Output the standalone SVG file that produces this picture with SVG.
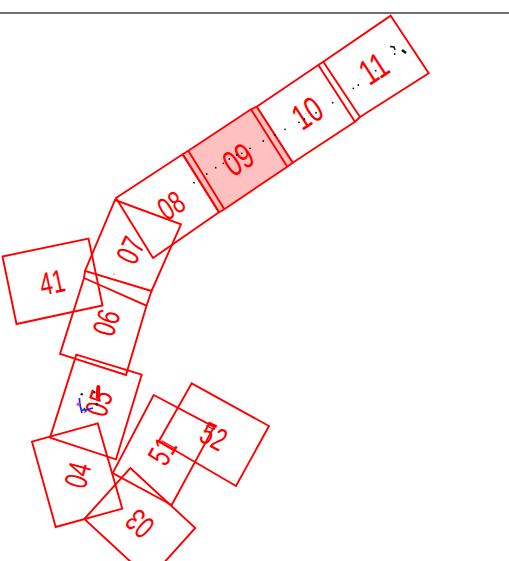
<svg xmlns="http://www.w3.org/2000/svg" width="509" height="561" viewBox="0 0 509 561">
<style>
.b{fill:none;stroke:#f00;stroke-width:1.9;stroke-linejoin:miter}
.s{fill:none;stroke:#f00;stroke-width:1.1}
.t{fill:#f00;font-family:"Liberation Sans",Arial,sans-serif;font-size:32px;text-anchor:middle}
.u{font-size:36px}
.d{fill:#111}
</style>
<rect width="509" height="561" fill="#fff"/>
<path d="M0 13H509" stroke="#707070" stroke-width="2" fill="none"/>
<g id="n11"><polygon class="b" points="390.7,15.7 428.7,73.3 360,117 323.3,61.7"/><text class="t u" y="13" transform="translate(373.5,68) rotate(-33) scale(.72,1)">11</text></g>
<g id="n10"><polygon class="b" points="318.3,65 355,121.7 292.7,162.7 256.7,106.7"/><path class="b" d="M318.3 65L323.3 61.7M355 121.7L360 117"/><text class="t u" y="13" transform="translate(307,112.5) rotate(-33) scale(.72,1)">10</text></g>
<g id="n09"><polygon class="b" points="256.7,106.7 292.7,162.7 287.3,166.7 224.3,209.3 219,212.3 182.7,154.3 188.3,150.7 251,109.3" style="fill:#ffc0c0"/><path class="b" d="M251 109.3L287.3 166.7M188.3 150.7L224.3 209.3"/><text class="t u" y="13" transform="translate(238,159) rotate(-33) scale(.72,1)">09</text></g>
<g id="n08"><polygon class="b" points="182.7,154.3 219,212.3 153,258 116,198"/><text class="t" y="11.5" transform="translate(171,205) rotate(-33) scale(.7,1)">08</text></g>
<g id="n07"><polygon class="b" points="115,200 181,224.3 151.5,291 85,271"/><text class="t" y="11.5" transform="translate(130,250) rotate(-65) scale(.7,1)">07</text></g>
<g id="n06"><polygon class="b" points="84,278 146.5,305.7 151.5,291 146.5,305.7 126,375 60,354"/><path class="b" d="M85 271L84 278"/><text class="t" y="11.5" transform="translate(106,322.5) rotate(-72) scale(.7,1)">06</text></g>
<g id="n41"><polygon class="b" points="88.5,238.5 102.5,305.5 16.5,324 2.5,256.5"/><text class="t" y="11.5" transform="translate(52,282) rotate(-12) scale(.7,1)">41</text></g>
<g id="n05"><polygon class="b" points="76.3,354.7 141.7,374.7 116,459.3 50,437.7"/><text class="t" y="11.5" transform="translate(98.5,403) rotate(-72) scale(.7,1)">05</text></g>
<g id="n04"><polygon class="b" points="97.7,423.3 122.3,508.7 55.7,527 32,441.7"/><text class="t" y="11.5" transform="translate(77.3,475) rotate(-75) scale(.7,1)">04</text></g>
<g id="n03"><polygon class="b" points="130.3,468 195.3,528 149.3,579 84.3,519"/><text class="t" y="11.5" transform="translate(139.5,524) rotate(-138) scale(.7,1)">03</text></g>
<g id="n51"><polygon class="b" points="153.7,395 214,427 171.7,505 112.7,473"/><path class="s" d="M161.7 440.7L175 448.3L173.3 450.7"/><text class="t" y="11.5" transform="translate(162,451) rotate(-60) scale(.7,1)">51</text></g>
<g id="n52"><polygon class="b" points="191.7,383.3 269,426 236,486 159,441"/><path class="s" d="M208.3 422.3L216 425.5L214 429.5L206 425.5"/><text class="t" y="11.5" transform="translate(214,436) rotate(28) scale(.7,1)">52</text></g>
<g id="connectors">
<g class="d">
<circle cx="194" cy="182.7" r=".9"/><circle cx="206.7" cy="174" r=".9"/><circle cx="215.7" cy="167.7" r=".9"/><circle cx="223.3" cy="163.3" r=".9"/><circle cx="229.3" cy="159" r=".9"/><circle cx="236.7" cy="155" r=".9"/><circle cx="241.7" cy="153.3" r=".9"/><circle cx="250" cy="148.3" r=".9"/><circle cx="263.3" cy="141" r=".9"/><circle cx="275" cy="135" r=".9"/><circle cx="285" cy="129.3" r=".9"/><circle cx="299" cy="122.3" r=".9"/><circle cx="304.3" cy="119" r=".9"/><circle cx="316" cy="112.7" r=".9"/><circle cx="332.7" cy="102.7" r=".9"/><circle cx="353.3" cy="88.3" r=".9"/><circle cx="358.3" cy="85" r=".9"/><circle cx="375.7" cy="70.7" r=".9"/><circle cx="394.7" cy="54" r=".9"/><circle cx="114" cy="274" r=".6"/>
<path d="M390 46.5L394 47L395 50" fill="none" stroke="#111" stroke-width="1.5"/><path d="M402 50L406 53" fill="none" stroke="#111" stroke-width="2.5"/>
<circle cx="81.7" cy="394.3" r="1.2"/><circle cx="94.3" cy="392.3" r="1.2"/><circle cx="96.7" cy="404.3" r="1.2"/>
</g>
<path d="M98.3 387L97.7 397" fill="none" stroke="#f00" stroke-width="4" stroke-linecap="round"/>
<path d="M79.3 398L80 405L82 413M81 410L86 410L93 408M84 408L86 412" fill="none" stroke="#2222ee" stroke-width="1.7"/>
<circle cx="78.3" cy="404.3" r="1.7" fill="#d040f0"/><circle cx="84.5" cy="412.5" r="1" fill="#e8a020"/>
</g>
</svg>
